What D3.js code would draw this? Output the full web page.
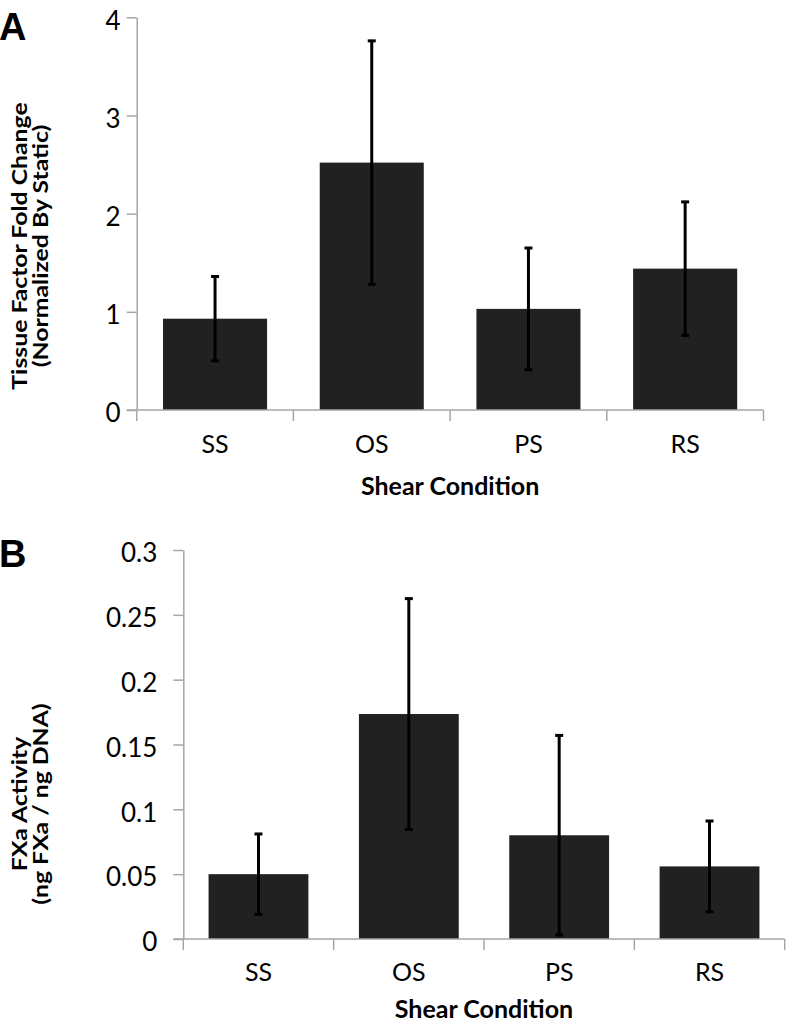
<!DOCTYPE html>
<html>
<head>
<meta charset="utf-8">
<script src="https://cdn.jsdelivr.net/npm/d3@7"></script>
<style>
  html, body { margin: 0; padding: 0; background: #fff; }
  svg { display: block; }
</style>
</head>
<body>
<svg id="chart" width="792" height="1024"></svg>
<script>
// ---------- data ----------
const categories = ["SS", "OS", "PS", "RS"];

// Panel A: Tissue Factor fold change (normalized by static)
const tfMeans  = [0.93, 2.52, 1.03, 1.44];
const tfErrors = [0.43, 1.24, 0.62, 0.68];
const tfTicks  = [0, 1, 2, 3, 4];
const tfTickLabels = ["0", "1", "2", "3", "4"];

// Panel B: FXa activity (ng FXa / ng DNA)
const fxMeans  = [0.050, 0.1735, 0.080, 0.056];
const fxErrors = [0.031, 0.089, 0.077, 0.035];
const fxTicks  = [0, 0.05, 0.1, 0.15, 0.2, 0.25, 0.3];
const fxTickLabels = ["0", "0.05", "0.1", "0.15", "0.2", "0.25", "0.3"];

const xTitle = "Shear Condition";

// ---------- drawing ----------
const svg = d3.select("#chart");
const AXIS = "#a6a6a6";
const BAR = "#212121";
const FONT = "Lato, 'Open Sans', sans-serif";

function panel(cfg) {
  const g = svg.append("g");
  const x = d3.scaleBand().domain(categories)
    .range([cfg.left, cfg.right]).paddingInner(0.336).paddingOuter(0.168);
  const y = d3.scaleLinear().domain([0, cfg.max]).range([cfg.bottom, cfg.top]);

  // y axis
  const yAxis = d3.axisLeft(y).tickValues(cfg.ticks).tickSize(10).tickSizeOuter(0)
    .tickFormat((d, i) => cfg.tickLabels[i]).tickPadding(cfg.tickPad);
  const ya = g.append("g").attr("transform", `translate(${cfg.left},0)`).call(yAxis);
  ya.select(".domain").attr("stroke", AXIS).attr("stroke-width", 1.5);
  ya.selectAll(".tick line").attr("stroke", AXIS).attr("stroke-width", 1.5);
  ya.selectAll(".tick text")
    .attr("font-family", FONT)
    .attr("font-size", 26).attr("fill", "#000")
    .attr("dy", "0.45em");

  // bars
  g.selectAll("rect.bar").data(cfg.means).join("rect")
    .attr("class", "bar")
    .attr("x", (d, i) => x(categories[i]))
    .attr("width", x.bandwidth())
    .attr("y", d => y(d))
    .attr("height", d => y(0) - y(d))
    .attr("fill", BAR);

  // x axis line + boundary ticks
  g.append("line")
    .attr("x1", cfg.left - 10).attr("x2", cfg.right)
    .attr("y1", y(0)).attr("y2", y(0))
    .attr("stroke", AXIS).attr("stroke-width", 1.5);
  const bounds = d3.range(categories.length + 1).map(i => cfg.left + i * x.step());
  g.selectAll("line.bt").data(bounds).join("line")
    .attr("class", "bt")
    .attr("x1", d => d).attr("x2", d => d)
    .attr("y1", y(0)).attr("y2", y(0) + 11)
    .attr("stroke", AXIS).attr("stroke-width", 1.5);

  // x labels
  const xAxis = d3.axisBottom(x).tickSize(0).tickPadding(0);
  const xa = g.append("g").attr("transform", `translate(0,${cfg.catBase})`).call(xAxis);
  xa.select(".domain").remove();
  xa.selectAll(".tick text")
    .attr("font-family", FONT)
    .attr("font-size", 25).attr("fill", "#000")
    .attr("dy", 0).attr("y", 0);

  // error bars
  const cx = i => x(categories[i]) + x.bandwidth() / 2;
  const eb = g.selectAll("g.err").data(cfg.means).join("g").attr("class", "err");
  eb.append("line")
    .attr("x1", (d, i) => cx(i)).attr("x2", (d, i) => cx(i))
    .attr("y1", (d, i) => y(d + cfg.errors[i]))
    .attr("y2", (d, i) => y(d - cfg.errors[i]))
    .attr("stroke", "#000").attr("stroke-width", 3);
  [1, -1].forEach(s => {
    eb.append("line")
      .attr("x1", (d, i) => cx(i) - 4).attr("x2", (d, i) => cx(i) + 4)
      .attr("y1", (d, i) => y(d + s * cfg.errors[i]))
      .attr("y2", (d, i) => y(d + s * cfg.errors[i]))
      .attr("stroke", "#000").attr("stroke-width", 3);
  });

  // x title
  g.append("text")
    .attr("x", (cfg.left + cfg.right) / 2).attr("y", cfg.xTitleBase)
    .attr("text-anchor", "middle")
    .attr("font-family", FONT)
    .attr("font-weight", "bold").attr("font-size", 25).attr("fill", "#000")
    .text(xTitle);

  // y title (two lines, rotated, slightly widened glyphs)
  cfg.yTitle.forEach((t, k) => {
    g.append("text")
      .attr("transform", `translate(${cfg.yTitleX[k]},${cfg.yTitleY}) rotate(-90) scale(1.18,1)`)
      .attr("text-anchor", "middle")
      .attr("font-family", FONT)
      .attr("font-weight", "bold").attr("font-size", 21).attr("fill", "#000")
      .text(t);
  });

  // panel letter
  g.append("text")
    .attr("x", -1).attr("y", cfg.letterBase)
    .attr("font-family", "'Liberation Sans', Arial, sans-serif")
    .attr("font-weight", "bold").attr("font-size", 38).attr("fill", "#000")
    .text(cfg.letter);
}

panel({
  letter: "A", letterBase: 40,
  left: 136.7, right: 763.5, top: 17.3, bottom: 410,
  max: 4, ticks: tfTicks, tickLabels: tfTickLabels, tickPad: 6,
  means: tfMeans, errors: tfErrors,
  catBase: 453, xTitleBase: 495,
  yTitle: ["Tissue Factor Fold Change", "(Normalized By Static)"],
  yTitleX: [27, 47.5], yTitleY: 246
});

panel({
  letter: "B", letterBase: 567,
  left: 183.3, right: 784.7, top: 550, bottom: 939,
  max: 0.3, ticks: fxTicks, tickLabels: fxTickLabels, tickPad: 16,
  means: fxMeans, errors: fxErrors,
  catBase: 981, xTitleBase: 1018,
  yTitle: ["FXa Activity", "(ng FXa / ng DNA)"],
  yTitleX: [27, 47.5], yTitleY: 804
});
</script>
</body>
</html>
